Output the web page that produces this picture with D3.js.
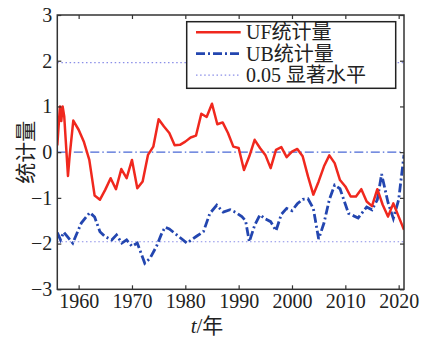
<!DOCTYPE html>
<html>
<head>
<meta charset="utf-8">
<script src="https://cdn.jsdelivr.net/npm/d3@7"></script>
<style>
  body { margin: 0; background: #fff; }
  text { font-family: "Liberation Serif", "Times New Roman", "Noto Sans CJK SC", serif; fill: #222; }
</style>
</head>
<body>
<script>
// UF / UB series
const ufYears = [1956, 1956.5, 1956.75, 1957, 1957.3, 1958, 1958.3, 1959, 1960, 1961,
  1962, 1963, 1964, 1965, 1966, 1967, 1968, 1969, 1970, 1971,
  1972, 1973, 1974, 1975, 1976, 1977, 1978, 1979, 1980, 1981,
  1982, 1983, 1984, 1985, 1986, 1987, 1988, 1989, 1990, 1991,
  1992, 1993, 1994, 1995, 1996, 1997, 1998, 1999, 2000, 2001,
  2002, 2003, 2004, 2005, 2006, 2007, 2008, 2009, 2010, 2011,
  2012, 2013, 2014, 2015, 2016, 2017, 2018, 2019, 2020, 2021];
const ufValues = [0.15, 1.0, 0.68, 1.0, 0.78, -0.52, -0.1, 0.69, 0.49, 0.22,
  -0.17, -0.95, -1.04, -0.82, -0.57, -0.81, -0.37, -0.57, -0.17, -0.79,
  -0.64, -0.06, 0.12, 0.72, 0.56, 0.42, 0.15, 0.16, 0.23, 0.32,
  0.36, 0.84, 0.77, 1.06, 0.61, 0.65, 0.42, 0.12, 0.09, -0.39,
  -0.09, 0.27, 0.09, -0.06, -0.35, 0.05, 0.11, -0.11, 0.01, 0.07,
  -0.09, -0.53, -0.93, -0.64, -0.31, -0.07, -0.24, -0.61, -0.75, -0.97,
  -0.97, -0.81, -1.08, -1.18, -0.81, -1.15, -1.41, -1.12, -1.41, -1.70];

const ubYears = [1956, 1956.6, 1957.2, 1957.9, 1958.9, 1960.5, 1962.1, 1963, 1964, 1965,
  1966.2, 1967.1, 1968.1, 1969, 1970, 1971, 1972.4, 1973.4, 1974.6, 1975.5,
  1976.2, 1977, 1978.4, 1980.3, 1982.1, 1983.4, 1984.6, 1985.9, 1987.1, 1988.4,
  1989.5, 1990.6, 1991.3, 1992, 1993, 1994, 1995, 1996, 1997, 1998,
  1999, 2000, 2001, 2002, 2003, 2004, 2005, 2006, 2007, 2008,
  2009, 2010.6, 2012.4, 2014, 2015, 2016, 2016.8, 2018, 2019, 2020, 2021];
const ubValues = [-1.76, -1.92, -1.75, -1.85, -1.99, -1.55, -1.32, -1.42, -1.74, -1.85,
  -1.92, -1.81, -1.99, -1.92, -2.06, -1.99, -2.43, -2.32, -2.06, -1.8,
  -1.64, -1.68, -1.81, -1.99, -1.84, -1.74, -1.34, -1.16, -1.31, -1.26,
  -1.32, -1.41, -1.5, -1.96, -1.6, -1.37, -1.46, -1.52, -1.72, -1.36,
  -1.23, -1.28, -1.13, -1.03, -1.02, -1.23, -1.9, -1.55, -1.04, -0.72,
  -0.8, -1.34, -1.44, -1.2, -1.26, -1.04, -0.48, -1.1, -1.45, -1.04, -0.06];

const sigLevels = [1.96, -1.96];
const xTicks = [1960, 1970, 1980, 1990, 2000, 2010, 2020];
const yTicks = [-3, -2, -1, 0, 1, 2, 3];
const legendLabels = ["UF统计量", "UB统计量", "0.05 显著水平"];

const width = 423, height = 338;
const margin = { left: 57.3, top: 15, right: 19, bottom: 48.7 };
const w = width - margin.left - margin.right;
const h = height - margin.top - margin.bottom;
const fontStack = '"Liberation Serif", "Times New Roman", "Noto Sans CJK SC", serif';

const svg = d3.select("body").append("svg")
  .attr("width", width)
  .attr("height", height);

const g = svg.append("g").attr("transform", `translate(${margin.left},${margin.top})`);

const x = d3.scaleLinear().domain([1956, 2021]).range([0, w]);
const y = d3.scaleLinear().domain([-3, 3]).range([h, 0]);

// clip so lines stay inside the box
g.append("clipPath").attr("id", "clip")
  .append("rect").attr("width", w).attr("height", h);

const plot = g.append("g").attr("clip-path", "url(#clip)");

// significance lines
plot.selectAll(".sig")
  .data(sigLevels)
  .enter().append("line")
  .attr("class", "sig")
  .attr("x1", 0).attr("x2", w)
  .attr("y1", d => y(d)).attr("y2", d => y(d))
  .attr("stroke", "#8a8ee8")
  .attr("stroke-width", 1.2)
  .attr("stroke-dasharray", "1.5,2.6");

// zero line
plot.append("line")
  .attr("x1", 0).attr("x2", w)
  .attr("y1", y(0)).attr("y2", y(0))
  .attr("stroke", "#4a68d6")
  .attr("stroke-width", 1.2)
  .attr("stroke-dasharray", "9,3,1.5,3");

const line = d3.line()
  .x(d => x(d[0]))
  .y(d => y(d[1]));

plot.append("path")
  .datum(d3.zip(ubYears, ubValues))
  .attr("fill", "none")
  .attr("stroke", "#2346b0")
  .attr("stroke-width", 2.8)
  .attr("stroke-dasharray", "9,3,2,3")
  .attr("d", line);

plot.append("path")
  .datum(d3.zip(ufYears, ufValues))
  .attr("fill", "none")
  .attr("stroke", "#f0281e")
  .attr("stroke-width", 2.5)
  .attr("stroke-linejoin", "round")
  .attr("d", line);

// axes, ticks pointing inward
g.append("g")
  .attr("transform", `translate(0,${h})`)
  .call(d3.axisBottom(x).tickValues(xTicks).tickFormat(d3.format("d"))
    .tickSizeInner(-4).tickSizeOuter(0).tickPadding(5));

g.append("g")
  .call(d3.axisTop(x).tickValues(xTicks).tickFormat("")
    .tickSizeInner(-4).tickSizeOuter(0));

g.append("g")
  .call(d3.axisLeft(y).tickValues(yTicks).tickFormat(d3.format("d"))
    .tickSizeInner(-4).tickSizeOuter(0).tickPadding(5));

g.append("g")
  .attr("transform", `translate(${w},0)`)
  .call(d3.axisRight(y).tickValues(yTicks).tickFormat("")
    .tickSizeInner(-4).tickSizeOuter(0));

g.selectAll(".domain").remove();
g.selectAll(".tick line").attr("stroke", "#333").attr("stroke-width", 1.2);
g.selectAll(".tick text")
  .attr("fill", "#222")
  .attr("font-family", fontStack)
  .style("font-family", fontStack)
  .style("font-size", "20px");

// frame
g.append("rect")
  .attr("width", w).attr("height", h)
  .attr("fill", "none")
  .attr("stroke", "#333")
  .attr("stroke-width", 1.5);

// axis titles
svg.append("text")
  .attr("transform", `translate(26,${margin.top + y(0)}) rotate(-90)`)
  .attr("text-anchor", "middle")
  .attr("dominant-baseline", "central")
  .style("font-size", "21px")
  .text("统计量");

const xTitle = svg.append("text")
  .attr("x", 207)
  .attr("y", 333)
  .attr("text-anchor", "middle")
  .style("font-size", "21px");
xTitle.append("tspan").style("font-style", "italic").text("t");
xTitle.append("tspan").text("/年");

// legend
const legend = svg.append("g").attr("transform", "translate(186.7,21.7)");

legend.append("rect")
  .attr("width", 209).attr("height", 66.6)
  .attr("fill", "#fff")
  .attr("stroke", "#222")
  .attr("stroke-width", 1.5);

const legendStyles = [
  { stroke: "#f0281e", width: 2.5, dash: null },
  { stroke: "#2346b0", width: 2.8, dash: "9,3,2,3" },
  { stroke: "#8a8ee8", width: 1.2, dash: "1.5,2.6" }
];

const items = legend.selectAll(".item")
  .data(legendLabels)
  .enter().append("g")
  .attr("class", "item")
  .attr("transform", (d, i) => `translate(0,${10.6 + i * 21.4})`);

items.append("line")
  .attr("x1", 9.3).attr("x2", 54)
  .attr("stroke", (d, i) => legendStyles[i].stroke)
  .attr("stroke-width", (d, i) => legendStyles[i].width)
  .attr("stroke-dasharray", (d, i) => legendStyles[i].dash);

items.append("text")
  .attr("x", 59.3)
  .attr("dominant-baseline", "central")
  .style("font-size", "20px")
  .text(d => d);
</script>
</body>
</html>
